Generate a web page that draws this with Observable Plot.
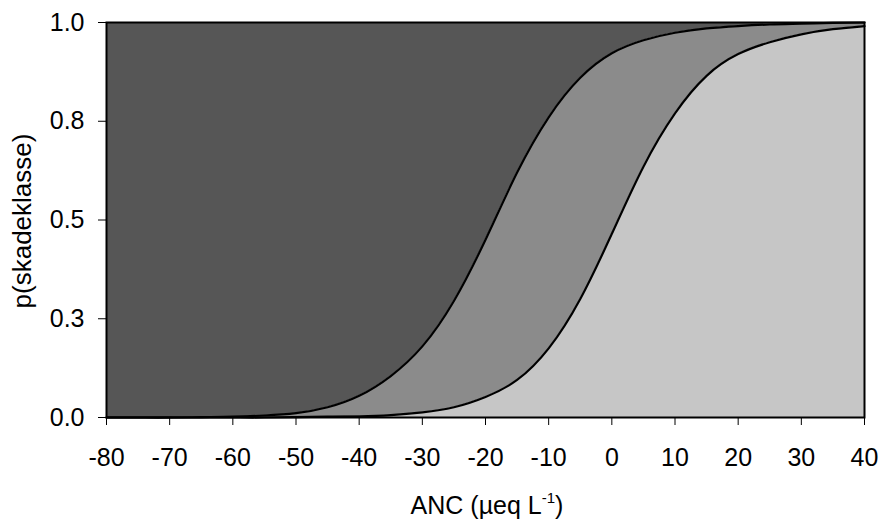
<!DOCTYPE html>
<html>
<head>
<meta charset="utf-8">
<script src="https://cdn.jsdelivr.net/npm/d3@7"></script>
<script src="https://cdn.jsdelivr.net/npm/@observablehq/plot@0.6"></script>
<style>
  html, body { margin: 0; padding: 0; background: #ffffff; }
  #chart { width: 882px; height: 525px; }
</style>
</head>
<body>
<div id="chart"></div>
<script>
// ANC values (µeq/L) at which the curves were read
const ancValues = [-80,-75,-70,-65,-60,-55,-50,-45,-40,-35,-30,-25,-20,-15,-10,-5,0,5,10,15,20,25,30,35,40];
// upper boundary curve (between darkest and middle class)
const upperCurve = [0.000,0.000,0.000,0.001,0.002,0.005,0.011,0.026,0.055,0.105,0.180,0.295,0.450,0.620,0.760,0.860,0.922,0.955,0.974,0.985,0.991,0.995,0.997,0.999,1.000];
// lower boundary curve (between middle and lightest class)
const lowerCurve = [0.000,0.000,0.000,0.000,0.000,0.000,0.001,0.002,0.003,0.006,0.013,0.026,0.052,0.095,0.175,0.300,0.465,0.635,0.770,0.865,0.920,0.950,0.970,0.983,0.991];

const xTicks = [-80,-70,-60,-50,-40,-30,-20,-10,0,10,20,30,40];
const xTickLabels = ["-80","-70","-60","-50","-40","-30","-20","-10","0","10","20","30","40"];
const yTicks = [0,0.25,0.5,0.75,1];
const yTickLabels = ["0.0","0.3","0.5","0.8","1.0"];
const xDomain = [-80, 40];
const yDomain = [0, 1];

const xLabelMain = "ANC (\u00b5eq L";
const xLabelSup = "-1";
const xLabelEnd = ")";
const yLabel = "p(skadeklasse)";

const data = ancValues.map((x, i) => ({x, upper: upperCurve[i], lower: lowerCurve[i]}));

const fillDark = "#565656";
const fillMid = "#8b8b8b";
const fillLight = "#c6c6c6";
const curveType = "natural";

const chart = Plot.plot({
  width: 882,
  height: 525,
  marginLeft: 106,
  marginRight: 18,
  marginTop: 22,
  marginBottom: 108,
  style: {fontSize: "25px", fontFamily: "'Liberation Sans', Arial, sans-serif", color: "#000", background: "#fff"},
  x: {domain: xDomain},
  y: {domain: yDomain},
  marks: [
    Plot.areaY(data, {x: "x", y1: "upper", y2: d => yDomain[1], fill: fillDark, curve: curveType}),
    Plot.areaY(data, {x: "x", y1: "lower", y2: "upper", fill: fillMid, curve: curveType}),
    Plot.areaY(data, {x: "x", y1: d => yDomain[0], y2: "lower", fill: fillLight, curve: curveType}),
    Plot.line(data, {x: "x", y: "upper", stroke: "#000", strokeWidth: 2.2, curve: curveType}),
    Plot.line(data, {x: "x", y: "lower", stroke: "#000", strokeWidth: 2.2, curve: curveType}),
    Plot.frame({stroke: "#000", strokeWidth: 2}),
    Plot.axisX({ticks: xTicks, tickSize: 8, tickPadding: 23, label: null, stroke: "#000",
      tickFormat: d => xTickLabels[xTicks.indexOf(d)]}),
    Plot.axisY({ticks: yTicks, tickSize: 8, tickPadding: 14, label: null,
      tickFormat: d => yTickLabels[yTicks.indexOf(d)]})
  ]
});

const svg = d3.select(chart);
const xl = svg.append("text")
  .attr("x", 487).attr("y", 514)
  .attr("text-anchor", "middle")
  .attr("fill", "#000")
  .style("font-size", "25px");
xl.append("tspan").text(xLabelMain);
xl.append("tspan").attr("dy", "-11").style("font-size", "15px").text(xLabelSup);
xl.append("tspan").attr("dy", "11").text(xLabelEnd);

svg.append("text")
  .attr("transform", "translate(31,221) rotate(-90)")
  .attr("text-anchor", "middle")
  .attr("fill", "#000")
  .style("font-size", "26px")
  .text(yLabel);

document.getElementById("chart").appendChild(chart);
</script>
</body>
</html>
